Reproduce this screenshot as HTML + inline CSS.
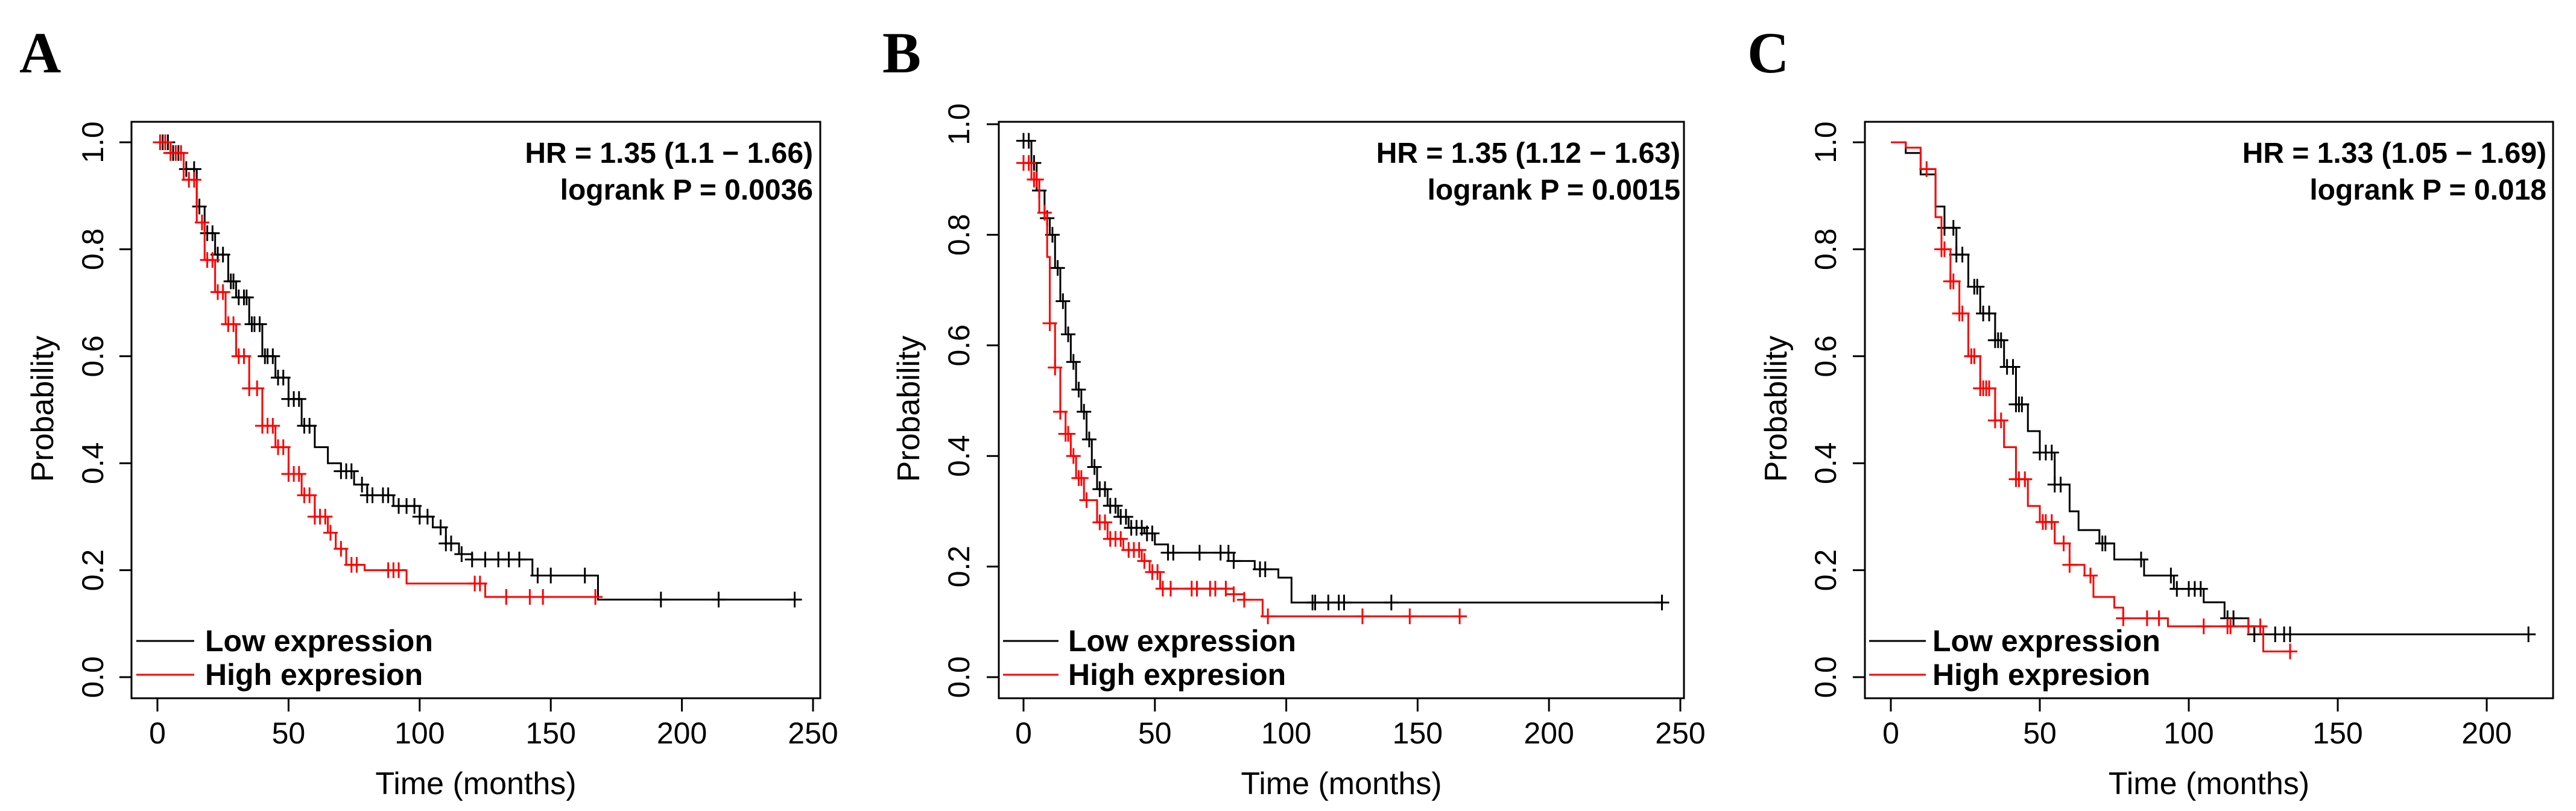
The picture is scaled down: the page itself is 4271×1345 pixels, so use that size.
<!DOCTYPE html>
<html><head><meta charset="utf-8"><style>
html,body{margin:0;padding:0;background:#fff}
svg{display:block}
text{font-family:"Liberation Sans",Arial,sans-serif}
text.letter{font-family:"Liberation Serif",serif}
</style></head><body>
<svg id="fig" width="4271" height="1345" viewBox="0 0 4271 1345" xmlns="http://www.w3.org/2000/svg"></svg>
<script>
// Panel A
const aLowT=[0,5,10,15,18,22,27,30,35,40,45,50,55,60,65,70,75,80,90,100,105,110,115,120,143,168,243];
const aLowP=[1,0.98,0.95,0.88,0.83,0.79,0.74,0.71,0.66,0.60,0.56,0.52,0.47,0.43,0.40,0.385,0.36,0.34,0.32,0.30,0.28,0.25,0.23,0.22,0.19,0.145,0.145];
const aHighT=[0,5,10,15,18,22,26,30,35,40,45,50,55,60,65,68,72,79,95,125,168];
const aHighP=[1,0.98,0.93,0.85,0.78,0.72,0.66,0.60,0.54,0.47,0.43,0.38,0.34,0.30,0.27,0.24,0.21,0.20,0.175,0.15,0.15];
const aLowC=[2,4,6,8,11,14,16,19,21,23,25,28,29,31,33,34,36,37,39,41,42,44,46,48,50,52,54,56,58,70,72,74,78,80,82,86,88,92,95,98,100,103,108,110,112,116,120,125,130,134,138,145,150,163,192,214,243];
const aHighC=[1,3,5,7,9,12,14,17,19,21,23,25,27,29,31,33,35,38,40,42,44,46,48,50,52,54,56,58,60,62,64,66,70,74,76,88,90,92,121,123,133,142,147,167];
// Panel B
const bLowT=[0,3,5,8,10,12,14,16,18,20,22,24,26,28,32,36,40,46,50,55,80,88,97,102,243];
const bLowP=[0.97,0.93,0.88,0.83,0.80,0.74,0.68,0.62,0.57,0.52,0.48,0.43,0.38,0.34,0.31,0.29,0.27,0.26,0.24,0.225,0.21,0.195,0.18,0.135,0.135];
const bHighT=[0,3,6,9,10,12,14,16,18,20,23,28,32,38,45,48,52,80,84,91,167];
const bHighP=[0.93,0.90,0.84,0.76,0.64,0.56,0.48,0.44,0.40,0.36,0.32,0.28,0.25,0.23,0.21,0.19,0.16,0.15,0.14,0.11,0.11];
const bLowC=[0,2,4,6,9,11,13,15,17,19,21,23,25,27,29,31,33,35,37,39,41,43,45,47,49,55,57,67,75,78,80,90,92,110,111,116,120,122,140,243];
const bHighC=[0,2,4,5,8,10,12,14,16,17,19,21,22,24,29,31,33,35,37,40,42,44,46,49,51,53,56,64,66,71,73,77,80,84,93,129,147,166];
// Panel C
const cLowT=[0,5,10,15,18,22,26,30,35,38,42,46,50,55,60,63,70,75,85,95,105,112,120,122,214];
const cLowP=[1,0.98,0.94,0.88,0.84,0.79,0.73,0.68,0.63,0.58,0.51,0.46,0.42,0.36,0.31,0.275,0.25,0.22,0.19,0.165,0.14,0.11,0.095,0.08,0.08];
const cHighT=[0,5,10,15,17,20,23,26,30,35,38,42,46,50,55,60,65,68,75,78,93,125,134];
const cHighP=[1,0.99,0.95,0.86,0.80,0.74,0.68,0.60,0.54,0.48,0.43,0.37,0.32,0.29,0.25,0.21,0.19,0.15,0.13,0.11,0.095,0.048,0.048];
const cLowC=[18,21,22,24,28,29,31,33,35,36,37,39,41,42,43,44,50,52,54,55,57,71,72,84,94,96,100,102,104,113,115,122,129,132,134,214];
const cHighC=[12,17,18,20,21,23,24,27,28,30,31,32,33,35,37,42,43,45,51,52,54,58,60,67,78,86,90,105,113,114,120,124,134];

const NS="http://www.w3.org/2000/svg";
const svg=document.getElementById('fig');
function mk(tag,attrs,parent){const e=document.createElementNS(NS,tag);for(const k in attrs)e.setAttribute(k,attrs[k]);(parent||svg).appendChild(e);return e;}
function txt(s,attrs,parent){const e=mk('text',attrs,parent);e.textContent=s;return e;}
function stepAt(T,P,t){let p=P[0];for(let i=0;i<T.length;i++){if(T[i]<=t)p=P[i];}return p;}

const panels=[
 {id:'a',letter:'A',lx:32,l:218,r:1360,x0:261,xs:4.348,xmax:250,p1:887,ylx:154,plx:71,hr:'HR = 1.35 (1.1 \u2212 1.66)',lp:'logrank P = 0.0036',hrx:1348,leg:[226,322,340],
  low:[aLowT,aLowP,aLowC],high:[aHighT,aHighP,aHighC]},
 {id:'b',letter:'B',lx:1463,l:1656,r:2792,x0:1697,xs:4.356,xmax:250,p1:917,ylx:1590,plx:1507,hr:'HR = 1.35 (1.12 \u2212 1.63)',lp:'logrank P = 0.0015',hrx:2786,leg:[1663,1755,1771],
  low:[bLowT,bLowP,bLowC],high:[bHighT,bHighP,bHighC]},
 {id:'c',letter:'C',lx:2897,l:3092,r:4233,x0:3135,xs:4.94,xmax:200,p1:887,ylx:3027,plx:2945,hr:'HR = 1.33 (1.05 \u2212 1.69)',lp:'logrank P = 0.018',hrx:4222,leg:[3099,3193,3204],
  low:[cLowT,cLowP,cLowC],high:[cHighT,cHighP,cHighC]}
];
const T=202,B=1158,Y0=1123;
panels.forEach(pn=>{
  const g=mk('g',{});
  
  
  const X=v=>pn.x0+v*pn.xs, Y=p=>Y0-p*pn.p1;
  const lt=txt(pn.letter,{x:pn.lx,y:120,'font-size':96,'font-weight':'bold','class':'letter',style:'font-family:"Liberation Serif",serif'},g);
  
  
  const box=mk('rect',{x:pn.l,y:T,width:pn.r-pn.l,height:B-T,fill:'none',stroke:'#000','stroke-width':3},g);
  
  
  for(let v=0;v<=pn.xmax;v+=50){
    const t=mk('line',{x1:X(v),x2:X(v),y1:B,y2:B+22,stroke:'#000','stroke-width':3},g);
    
    
    const l=txt(String(v),{x:X(v),y:1233,'font-size':50,'text-anchor':'middle'},g);
    
    
  }
  const xl=mk('line',{x1:X(0),x2:X(pn.xmax),y1:B,y2:B,stroke:'#000','stroke-width':3},g);
  
  
  for(let i=0;i<=5;i++){
    const p=i*0.2;
    const t=mk('line',{x1:pn.l-20,x2:pn.l,y1:Y(p),y2:Y(p),stroke:'#000','stroke-width':3},g);
    
    
    const l=txt(p.toFixed(1),{x:pn.ylx,y:Y(p),'font-size':50,'text-anchor':'middle','dominant-baseline':'central',transform:`rotate(-90 ${pn.ylx} ${Y(p)})`},g);
    
    
  }
  const yl=mk('line',{x1:pn.l,x2:pn.l,y1:Y(0),y2:Y(1),stroke:'#000','stroke-width':3},g);
  
  
  const xt=txt('Time (months)',{x:(pn.l+pn.r)/2,y:1317,'font-size':52,'text-anchor':'middle'},g);
  
  
  const yt=txt('Probability',{x:pn.plx,y:678,'font-size':52,'text-anchor':'middle','dominant-baseline':'central',transform:`rotate(-90 ${pn.plx} 678)`},g);
  
  
  [['low','#000',pn.low],['high','#ff0000',pn.high]].forEach(([nm,col,s])=>{
    const [Ts,Ps,Cs]=s;
    let d='M'+X(Ts[0])+','+Y(Ps[0]);
    for(let i=1;i<Ts.length;i++){d+=' H'+X(Ts[i])+' V'+Y(Ps[i]);}
    const c=mk('path',{d:d,fill:'none',stroke:col,'stroke-width':3},g);
    
    
    Cs.forEach(t=>{
      const cx=X(t),cy=Y(stepAt(Ts,Ps,t));
      const m=mk('path',{d:`M${cx-12},${cy} H${cx+12} M${cx},${cy-13} V${cy+13}`,stroke:col,'stroke-width':3,fill:'none'},g);
      
      
    });
  });
  const h1=txt(pn.hr,{x:pn.hrx,y:270,'font-size':48,'font-weight':'bold','text-anchor':'end'},g);
  
  
  const h2=txt(pn.lp,{x:pn.hrx,y:331,'font-size':48,'font-weight':'bold','text-anchor':'end'},g);
  
  
  [['Low expression','#000',1063,'low'],['High expresion','#ff0000',1119,'high']].forEach(([s,col,y,nm])=>{
    const ln=mk('line',{x1:pn.leg[0],x2:pn.leg[1],y1:y,y2:y,stroke:col,'stroke-width':3},g);
    
    
    const lt2=txt(s,{x:pn.leg[2],y:y+17,'font-size':50,'font-weight':'bold'},g);
    
    
  });
});
</script>
</body></html>
